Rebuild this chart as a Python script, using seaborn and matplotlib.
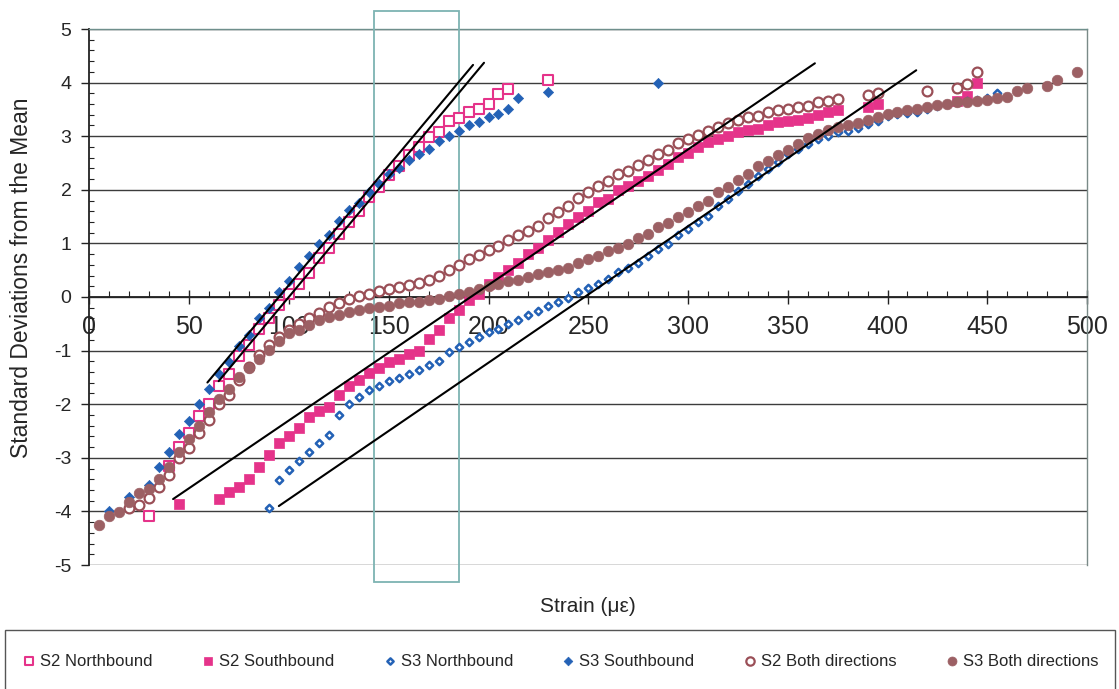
import matplotlib
matplotlib.use("Agg")
import matplotlib.pyplot as plt
import seaborn as sns
import pandas as pd
from matplotlib.patches import Rectangle
from matplotlib.ticker import MultipleLocator

# ---- data: strain (microstrain) vs. standard normal score ----
s2_nb_strain = [30, 40, 45, 50, 55, 60, 65, 70, 75, 80, 85, 90, 95, 100, 105, 110, 115, 120, 125, 130,
                135, 140, 145, 150, 155, 160, 165, 170, 175, 180, 185, 190, 195, 200, 205, 210, 230]
s2_nb_z = [-4.08, -3.16, -2.79, -2.54, -2.22, -1.99, -1.66, -1.44, -1.10, -0.90, -0.60, -0.40, -0.15, 0.05,
           0.25, 0.44, 0.73, 0.91, 1.18, 1.40, 1.60, 1.86, 2.05, 2.28, 2.44, 2.64, 2.79, 2.98, 3.07, 3.29,
           3.34, 3.46, 3.51, 3.61, 3.79, 3.88, 4.04]

s2_sb_strain = [45, 65, 70, 75, 80, 85, 90, 95, 100, 105, 110, 115, 120, 125, 130, 135, 140, 145, 150, 155,
                160, 165, 170, 175, 180, 185, 190, 195, 200, 205, 210, 215, 220, 225, 230, 235, 240, 245, 250,
                255, 260, 265, 270, 275, 280, 285, 290, 295, 300, 305, 310, 315, 320, 325, 330, 335, 340, 345,
                350, 355, 360, 365, 370, 375, 390, 395, 435, 440, 445]
s2_sb_z = [-3.86, -3.77, -3.63, -3.55, -3.40, -3.17, -2.95, -2.72, -2.59, -2.45, -2.23, -2.13, -2.05, -1.83,
           -1.66, -1.55, -1.41, -1.33, -1.21, -1.16, -1.06, -1.00, -0.79, -0.62, -0.40, -0.25, -0.06, 0.06,
           0.25, 0.37, 0.51, 0.63, 0.80, 0.92, 1.07, 1.21, 1.37, 1.49, 1.61, 1.77, 1.83, 1.99, 2.08, 2.17,
           2.25, 2.37, 2.48, 2.61, 2.68, 2.79, 2.89, 2.94, 3.00, 3.07, 3.12, 3.14, 3.20, 3.26, 3.29, 3.31,
           3.34, 3.40, 3.45, 3.48, 3.55, 3.60, 3.66, 3.75, 3.99]

s3_nb_strain = [90, 95, 100, 105, 110, 115, 120, 125, 130, 135, 140, 145, 150, 155, 160, 165, 170, 175, 180,
                185, 190, 195, 200, 205, 210, 215, 220, 225, 230, 235, 240, 245, 250, 255, 260, 265, 270, 275,
                280, 285, 290, 295, 300, 305, 310, 315, 320, 325, 330, 335, 340, 345, 350, 355, 360, 365, 370,
                375, 380, 385, 390, 395, 400, 405, 410, 415, 420, 425, 430, 435, 440, 445, 450, 455]
s3_nb_z = [-3.93, -3.41, -3.23, -3.06, -2.90, -2.73, -2.58, -2.20, -2.00, -1.86, -1.74, -1.66, -1.56, -1.51,
           -1.44, -1.37, -1.27, -1.19, -1.02, -0.93, -0.84, -0.74, -0.65, -0.59, -0.51, -0.42, -0.34, -0.26,
           -0.17, -0.10, -0.01, 0.09, 0.16, 0.25, 0.33, 0.46, 0.55, 0.63, 0.76, 0.89, 0.99, 1.15, 1.27, 1.40,
           1.52, 1.70, 1.83, 1.98, 2.11, 2.25, 2.39, 2.51, 2.66, 2.76, 2.86, 2.94, 3.01, 3.07, 3.10, 3.15,
           3.23, 3.29, 3.38, 3.42, 3.43, 3.46, 3.51, 3.57, 3.60, 3.63, 3.65, 3.68, 3.72, 3.80]

s3_sb_strain = [10, 20, 30, 35, 40, 45, 50, 55, 60, 65, 70, 75, 80, 85, 90, 95, 100, 105, 110, 115, 120, 125,
                130, 135, 140, 145, 150, 155, 160, 165, 170, 175, 180, 185, 190, 195, 200, 205, 210, 215, 230, 285]
s3_sb_z = [-4.00, -3.74, -3.51, -3.18, -2.90, -2.56, -2.31, -1.99, -1.72, -1.43, -1.21, -0.92, -0.71, -0.40,
           -0.20, 0.09, 0.29, 0.56, 0.76, 0.98, 1.15, 1.42, 1.63, 1.76, 1.95, 2.10, 2.30, 2.41, 2.56, 2.67,
           2.76, 2.91, 3.01, 3.10, 3.20, 3.26, 3.35, 3.42, 3.51, 3.72, 3.83, 4.00]

s2_both_strain = [20, 25, 30, 35, 40, 45, 50, 55, 60, 65, 70, 75, 80, 85, 90, 95, 100, 105, 110, 115, 120, 125,
                  130, 135, 140, 145, 150, 155, 160, 165, 170, 175, 180, 185, 190, 195, 200, 205, 210, 215, 220,
                  225, 230, 235, 240, 245, 250, 255, 260, 265, 270, 275, 280, 285, 290, 295, 300, 305, 310, 315,
                  320, 325, 330, 335, 340, 345, 350, 355, 360, 365, 370, 375, 390, 395, 420, 435, 440, 445]
s2_both_z = [-3.94, -3.88, -3.75, -3.55, -3.32, -3.00, -2.82, -2.53, -2.30, -2.00, -1.82, -1.54, -1.30, -1.08,
             -0.90, -0.75, -0.62, -0.50, -0.40, -0.30, -0.19, -0.11, -0.03, 0.01, 0.06, 0.11, 0.15, 0.18, 0.22,
             0.27, 0.31, 0.39, 0.50, 0.60, 0.70, 0.78, 0.88, 0.95, 1.07, 1.16, 1.23, 1.32, 1.48, 1.58, 1.69,
             1.85, 1.95, 2.07, 2.17, 2.29, 2.36, 2.47, 2.56, 2.66, 2.75, 2.88, 2.95, 3.02, 3.09, 3.17, 3.25,
             3.30, 3.36, 3.38, 3.45, 3.48, 3.51, 3.54, 3.57, 3.63, 3.66, 3.69, 3.77, 3.80, 3.84, 3.89, 3.97, 4.20]

s3_both_strain = [5, 10, 15, 20, 25, 30, 35, 40, 45, 50, 55, 60, 65, 70, 75, 80, 85, 90, 95, 100, 105, 110,
                  115, 120, 125, 130, 135, 140, 145, 150, 155, 160, 165, 170, 175, 180, 185, 190, 195, 200, 205,
                  210, 215, 220, 225, 230, 235, 240, 245, 250, 255, 260, 265, 270, 275, 280, 285, 290, 295, 300,
                  305, 310, 315, 320, 325, 330, 335, 340, 345, 350, 355, 360, 365, 370, 375, 380, 385, 390, 395,
                  400, 405, 410, 415, 420, 425, 430, 435, 440, 445, 450, 455, 460, 465, 470, 480, 485, 495]
s3_both_z = [-4.26, -4.08, -4.01, -3.82, -3.65, -3.58, -3.40, -3.18, -2.90, -2.65, -2.40, -2.15, -1.90, -1.72,
             -1.50, -1.33, -1.15, -0.99, -0.82, -0.68, -0.61, -0.53, -0.43, -0.37, -0.33, -0.28, -0.24, -0.21,
             -0.19, -0.16, -0.12, -0.10, -0.09, -0.06, -0.03, 0.01, 0.05, 0.10, 0.15, 0.20, 0.25, 0.29, 0.32,
             0.37, 0.42, 0.46, 0.50, 0.55, 0.63, 0.70, 0.76, 0.85, 0.92, 0.99, 1.10, 1.18, 1.30, 1.38, 1.50,
             1.59, 1.69, 1.80, 1.95, 2.05, 2.19, 2.30, 2.44, 2.53, 2.64, 2.75, 2.85, 2.96, 3.04, 3.12, 3.17,
             3.21, 3.25, 3.31, 3.36, 3.42, 3.45, 3.48, 3.51, 3.54, 3.58, 3.61, 3.63, 3.64, 3.66, 3.68, 3.71,
             3.74, 3.84, 3.89, 3.94, 4.05, 4.20]

# straight-line normal fits: (strain start, strain end, z start, z end)
fit_x0 = [59.1, 64.75, 41.9, 94.9]
fit_x1 = [192.25, 197.75, 363.6, 414.4]
fit_y0 = [-1.595, -1.57, -3.77, -3.90]
fit_y1 = [4.33, 4.37, 4.36, 4.23]

# highlighted strain window
window_lo, window_hi = 142.5, 185.0
window_zlo, window_zhi = -5.31, 5.34

PINK = "#E5338A"
BLUE = "#2462B6"
BROWN = "#9C6064"
BROWN_EDGE = "#9A4F57"
TEAL = "#7DB3B2"

sns.set_theme(style="white")
plt.rcParams["font.family"] = ["Liberation Sans", "DejaVu Sans"]
plt.rcParams["axes.unicode_minus"] = False

W, H = 1119, 689
fig = plt.figure(figsize=(W / 100, H / 100), dpi=100)
ax = fig.add_axes([89.5 / W, 1 - 565 / H, 997.5 / W, 536 / H])

series = [
    ("S2 Northbound", s2_nb_strain, s2_nb_z, dict(marker="s", s=44, color=PINK, facecolor="white",
                                                  edgecolor=PINK, linewidth=1.5)),
    ("S2 Southbound", s2_sb_strain, s2_sb_z, dict(marker="s", s=46, color=PINK, edgecolor=PINK, linewidth=0.5)),
    ("S3 Northbound", s3_nb_strain, s3_nb_z, dict(marker="D", s=14, color=BLUE, facecolor="white",
                                                  edgecolor=BLUE, linewidth=1.8)),
    ("S3 Southbound", s3_sb_strain, s3_sb_z, dict(marker="D", s=27, color=BLUE, edgecolor=BLUE, linewidth=0.5)),
    ("S2 Both directions", s2_both_strain, s2_both_z, dict(marker="o", s=50, color=BROWN_EDGE, facecolor="white",
                                                            edgecolor=BROWN_EDGE, linewidth=1.6)),
    ("S3 Both directions", s3_both_strain, s3_both_z, dict(marker="o", s=58, color=BROWN, edgecolor=BROWN,
                                                            linewidth=0.5)),
]

handles = []
for name, xs, zs, style in series:
    df = pd.DataFrame({"strain": xs, "z": zs})
    sns.scatterplot(data=df, x="strain", y="z", ax=ax, legend=False, zorder=4, label=name, **style)
    handles.append(ax.collections[-1])

for x0, x1, y0, y1 in zip(fit_x0, fit_x1, fit_y0, fit_y1):
    sns.lineplot(x=[x0, x1], y=[y0, y1], ax=ax, color="black", linewidth=1.5, zorder=5,
                 estimator=None, sort=False, legend=False)

ax.add_patch(Rectangle((window_lo, window_zlo), window_hi - window_lo, window_zhi - window_zlo,
                       fill=False, edgecolor=TEAL, linewidth=1.3, clip_on=False, zorder=3))

ax.set_xlim(0, 500)
ax.set_ylim(-5, 5)
ax.xaxis.set_major_locator(MultipleLocator(50))
ax.xaxis.set_minor_locator(MultipleLocator(10))
ax.yaxis.set_major_locator(MultipleLocator(1))
ax.yaxis.set_minor_locator(MultipleLocator(0.2))

ax.yaxis.grid(True, which="major", color="#3c3c3c", linewidth=1.0, zorder=1)
ax.xaxis.grid(False)
ax.set_axisbelow(True)

ax.spines["bottom"].set_position(("data", 0))
ax.spines["bottom"].set_color("#222222")
ax.spines["bottom"].set_linewidth(1.3)
ax.spines["left"].set_color("#222222")
ax.spines["left"].set_linewidth(1.3)
ax.spines["top"].set_color("#6f8f8c")
ax.spines["top"].set_linewidth(1.0)
ax.spines["right"].set_color("#7a8a88")
ax.spines["right"].set_linewidth(1.0)

ax.tick_params(axis="x", which="major", direction="inout", length=10, width=1.0, color="#222222",
               labelsize=18, pad=8, bottom=True)
ax.tick_params(axis="x", which="minor", direction="in", length=4, width=0.8, color="#222222", bottom=True)
ax.tick_params(axis="y", which="major", direction="out", length=6, width=1.0, color="#222222",
               labelsize=14, pad=7, left=True)
ax.tick_params(axis="y", which="minor", direction="in", length=3.6, width=0.8, color="#222222", left=True)

ax.set_xlabel("Strain (\u03bc\u03b5)", fontsize=15)
ax.xaxis.set_label_coords(0.5, -0.06)
ax.set_ylabel("Standard Deviations from the Mean", fontsize=16.5)
ax.yaxis.set_label_coords(-0.057, 0.535)

# legend strip along the bottom
fig.patches.append(Rectangle((5 / W, -0.05), 1110 / W, (H - 630) / H + 0.05, transform=fig.transFigure,
                             fill=False, edgecolor="#555555", linewidth=1.0))
fig.legend(handles, [s[0] for s in series], loc="center", ncol=6, mode="expand",
           bbox_to_anchor=(15 / W, 1 - 672 / H, 1090 / W, 22 / H), frameon=False,
           fontsize=12, handletextpad=0.2, handlelength=0.9, borderaxespad=0, scatterpoints=1,
           markerscale=0.85)

fig.savefig("out.png", dpi=100, facecolor="white")
